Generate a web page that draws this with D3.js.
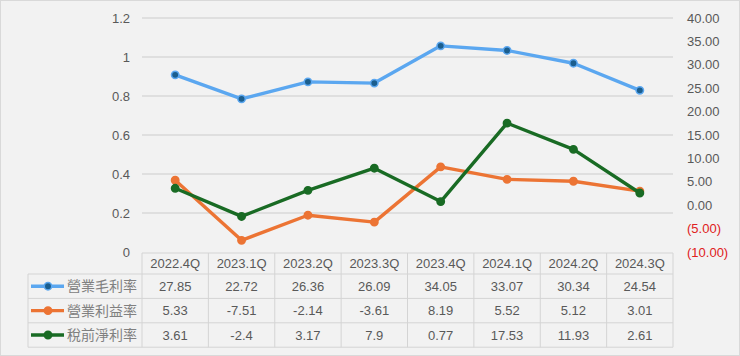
<!DOCTYPE html>
<html><head><meta charset="utf-8">
<script src="https://cdn.jsdelivr.net/npm/d3@7"></script>
<style>
html,body{margin:0;padding:0;background:#f2f2f2;}
svg{display:block;}
</style></head>
<body>
<svg id="chart" width="740" height="356"></svg>
<script>
const categories = ["2022.4Q","2023.1Q","2023.2Q","2023.3Q","2023.4Q","2024.1Q","2024.2Q","2024.3Q"];
const grossMargin = [27.85,22.72,26.36,26.09,34.05,33.07,30.34,24.54];
const operatingMargin = [5.33,-7.51,-2.14,-3.61,8.19,5.52,5.12,3.01];
const pretaxMargin = [3.61,-2.4,3.17,7.9,0.77,17.53,11.93,2.61];
const seriesNames = ["營業毛利率","營業利益率","稅前淨利率"];
const leftTicks = [0,0.2,0.4,0.6,0.8,1,1.2];
const rightTicks = [-10,-5,0,5,10,15,20,25,30,35,40];

const series = [
  {name: seriesNames[0], values: grossMargin, line: "#5ba7f0", dot: "#1b5e8e", dotStroke: "#5ba7f0"},
  {name: seriesNames[1], values: operatingMargin, line: "#ec7434", dot: "#ec7434", dotStroke: "#ec7434"},
  {name: seriesNames[2], values: pretaxMargin, line: "#196b24", dot: "#196b24", dotStroke: "#196b24"}
];

const svg = d3.select("#chart");
const W = 740, H = 356;
const font = "'Liberation Sans', Arial, sans-serif";
const cjk = "'Noto Sans CJK TC','Noto Sans CJK JP',sans-serif";
const textCol = "#595959";

svg.append("rect").attr("x",0.5).attr("y",0.5).attr("width",W-1).attr("height",H-1)
  .attr("fill","#f2f2f2").attr("stroke","#d9d9d9");

const plotL = 142, plotR = 673, plotT = 18, plotB = 252;
const x = d3.scaleBand().domain(categories).range([plotL, plotR]);
const yL = d3.scaleLinear().domain([0,1.2]).range([plotB, plotT]);
const yR = d3.scaleLinear().domain([-10,40]).range([plotB, plotT]);

// gridlines
svg.append("g").selectAll("line").data(leftTicks.filter(d=>d>0)).join("line")
  .attr("x1",plotL).attr("x2",plotR)
  .attr("y1",d=>yL(d)).attr("y2",d=>yL(d))
  .attr("stroke","#d9d9d9").attr("stroke-width",1.3);

// left axis
const lAxis = svg.append("g").attr("transform",`translate(${plotL},0)`)
  .call(d3.axisLeft(yL).tickValues(leftTicks).tickSize(0).tickPadding(12).tickFormat(d=>String(d)));
lAxis.select(".domain").remove();
lAxis.selectAll("text").attr("fill",textCol).style("font-family",font).style("font-size","13px");

// right axis
const fmtR = d => d < 0 ? "(" + d3.format(".2f")(-d) + ")" : d3.format(".2f")(d);
const rAxis = svg.append("g").attr("transform",`translate(${plotR},0)`)
  .call(d3.axisRight(yR).tickValues(rightTicks).tickSize(0).tickPadding(14).tickFormat(fmtR));
rAxis.select(".domain").remove();
rAxis.selectAll("text").attr("fill",d=>d<0?"#e02020":textCol).style("font-family",font).style("font-size","13px");

// lines
const cx = c => x(c) + x.bandwidth()/2;
series.forEach(s => {
  const pts = categories.map((c,i)=>[cx(c), yR(s.values[i])]);
  svg.append("path").attr("d", d3.line()(pts)).attr("fill","none")
    .attr("stroke", s.line).attr("stroke-width",3.4).attr("stroke-linejoin","round").attr("stroke-linecap","round");
  svg.append("g").selectAll("circle").data(pts).join("circle")
    .attr("cx",d=>d[0]).attr("cy",d=>d[1]).attr("r",3.7)
    .attr("fill",s.dot).attr("stroke",s.dotStroke).attr("stroke-width",1.5);
});

// data table
const tblTop = 253, hdrH = 21, rowH = 24.4, legL = 28;
const tb = svg.append("g");
const bc = "#d4d4d4";
tb.append("line").attr("x1",plotL).attr("x2",plotR).attr("y1",tblTop).attr("y2",tblTop).attr("stroke",bc);
for (let r=0;r<=3;r++){
  const yy = tblTop + hdrH + r*rowH;
  tb.append("line").attr("x1",legL).attr("x2",plotR).attr("y1",yy).attr("y2",yy).attr("stroke",bc);
}
const tblBottom = tblTop + hdrH + 3*rowH;
tb.append("line").attr("x1",legL).attr("x2",legL).attr("y1",tblTop+hdrH).attr("y2",tblBottom).attr("stroke",bc);
const colEdges = categories.map(c=>x(c)).concat([plotR]);
tb.selectAll("line.v").data(colEdges).join("line").attr("class","v")
  .attr("x1",d=>d).attr("x2",d=>d).attr("y1",tblTop).attr("y2",tblBottom).attr("stroke",bc);

tb.append("g").selectAll("text").data(categories).join("text")
  .attr("x",d=>cx(d)).attr("y",tblTop+hdrH/2).attr("dy","0.36em").attr("text-anchor","middle")
  .attr("fill",textCol).style("font-family",font).style("font-size","13px").text(d=>d);

series.forEach((s,ri) => {
  const yc = tblTop + hdrH + ri*rowH + rowH/2;
  tb.append("line").attr("x1",31).attr("x2",64).attr("y1",yc).attr("y2",yc)
    .attr("stroke",s.line).attr("stroke-width",3.4);
  tb.append("circle").attr("cx",48).attr("cy",yc).attr("r",3.7)
    .attr("fill",s.dot).attr("stroke",s.dotStroke).attr("stroke-width",1.5);
  tb.append("text").attr("x",67).attr("y",yc).attr("dy","0.36em")
    .attr("fill","#808080").style("font-family",cjk).style("font-size","14px").text(s.name);
  tb.append("g").selectAll("text").data(categories).join("text")
    .attr("x",d=>cx(d)).attr("y",yc).attr("dy","0.36em").attr("text-anchor","middle")
    .attr("fill",textCol).style("font-family",font).style("font-size","13px")
    .text((d,i)=>String(s.values[i]));
});
</script>
</body></html>
